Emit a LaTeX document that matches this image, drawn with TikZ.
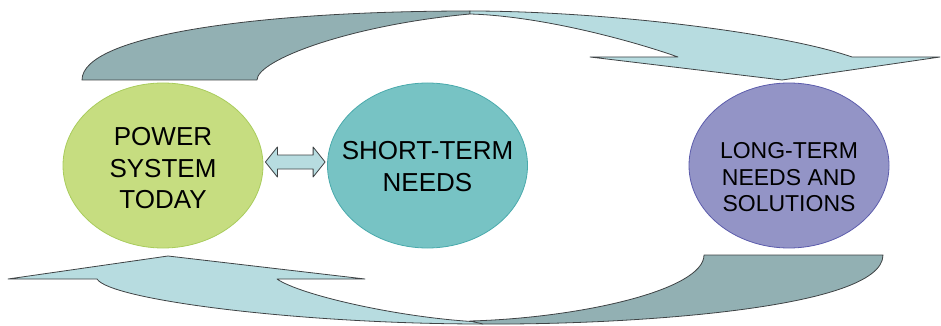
\documentclass[tikz,border=0pt]{standalone}
\usepackage{fontspec}
\setmainfont{Liberation Sans}
\usetikzlibrary{shapes.geometric,calc}
\definecolor{arrdarkc}{HTML}{92B0B3}
\definecolor{arrlightc}{HTML}{B7DCE0}
\definecolor{edgec}{HTML}{3F4345}
\definecolor{greenf}{HTML}{C6DD80}
\definecolor{greend}{HTML}{A9CC5C}
\definecolor{tealf}{HTML}{77C3C4}
\definecolor{teald}{HTML}{4AAAAC}
\definecolor{purpf}{HTML}{9394C6}
\definecolor{purpd}{HTML}{5C5CAC}
\tikzset{
  arrdark/.style={fill=arrdarkc, draw=edgec, line width=0.8pt, line join=round},
  arrlight/.style={fill=arrlightc, draw=edgec, line width=0.8pt, line join=round},
  bubble/.style={ellipse, minimum width=200pt, minimum height=165pt, inner sep=0pt, line width=0.8pt},
  bigtxt/.style={font=\fontsize{26}{31.5}\selectfont, align=center, inner sep=0pt},
  smalltxt/.style={font=\fontsize{23}{26.5}\selectfont, align=center, inner sep=0pt}
}
\begin{document}
\begin{tikzpicture}[x=1pt,y=-1pt]
\useasboundingbox (0,0) rectangle (941,326);
% top curved arrow
\draw[arrdark] (82,80) .. controls (82,35) and (260,11) .. (470,11) -- (470,14) .. controls (350,25) and (257,60) .. (257,80) -- cycle;
\draw[arrlight] (470,11) .. controls (600,11) and (780,32) .. (852,57) -- (940,57) -- (782,80) -- (590,57) -- (678,57) .. controls (630,40) and (540,16) .. (470,14) -- cycle;
% bottom curved arrow
\draw[arrlight] (483,324) .. controls (300,324) and (110,300) .. (97,279) -- (8,279) -- (168,256) -- (365,279) -- (277,279) .. controls (300,295) and (400,318) .. (480,322) -- cycle;
\draw[arrdark] (883,255) .. controls (883,310) and (620,325) .. (483,324) -- (470,321) .. controls (580,318) and (704,290) .. (704,255) -- cycle;
% bubbles
\node[bubble, fill=greenf, draw=greend,
      label={[bigtxt, yshift=-3pt]center:{POWER\\SYSTEM\\TODAY}}] (pst) at (163,165.5) {};
\node[bubble, fill=tealf, draw=teald,
      label={[bigtxt, yshift=-1pt]center:{SHORT-TERM\\NEEDS}}] (sht) at (427.5,165.5) {};
\node[bubble, fill=purpf, draw=purpd,
      label={[smalltxt, yshift=-12pt]center:{LONG-TERM\\NEEDS AND\\SOLUTIONS}}] (lng) at (789,165.5) {};
% double arrow between first two bubbles
\coordinate (la) at ($(pst.east)+(2,-3.5)$);
\coordinate (ra) at ($(sht.west)+(-2,-3.5)$);
\draw[arrlight] (la) -- ++(12,-15) -- ++(0,8) -- ($(ra)+(-12,-7)$) -- ++(0,-8) -- (ra)
  -- ++(-12,15) -- ++(0,-8) -- ($(la)+(12,7)$) -- ++(0,8) -- cycle;
\end{tikzpicture}
\end{document}
